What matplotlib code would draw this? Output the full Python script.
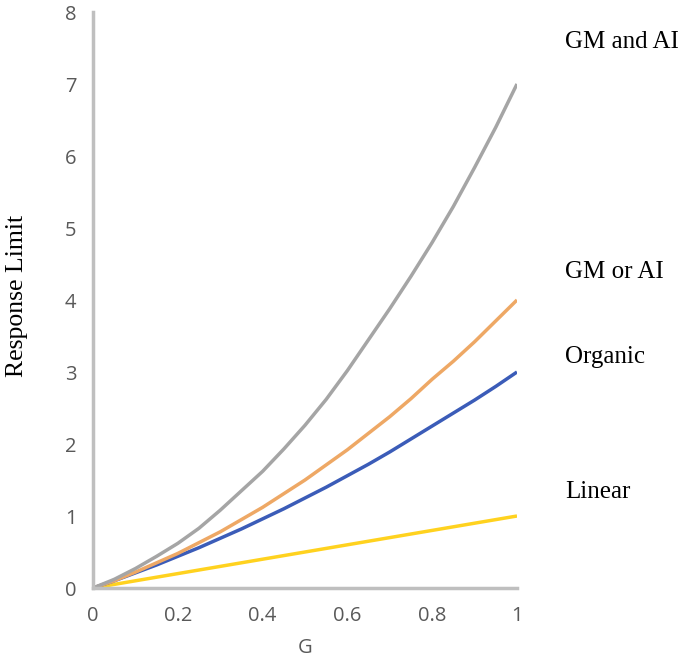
import matplotlib
matplotlib.use("Agg")
import matplotlib.pyplot as plt

# G values and response limits
g = [0.0, 0.05, 0.1, 0.15, 0.2, 0.25, 0.3, 0.35, 0.4, 0.45, 0.5,
     0.55, 0.6, 0.65, 0.7, 0.75, 0.8, 0.85, 0.9, 0.95, 1.0]
gm_and_ai = [0.0, 0.12, 0.27, 0.44, 0.62, 0.83, 1.08, 1.35, 1.62, 1.93, 2.26,
             2.62, 3.02, 3.45, 3.88, 4.33, 4.80, 5.30, 5.84, 6.40, 7.0]
gm_or_ai = [0.0, 0.10, 0.22, 0.35, 0.48, 0.63, 0.78, 0.95, 1.12, 1.31, 1.50,
            1.71, 1.92, 2.15, 2.38, 2.63, 2.90, 3.15, 3.42, 3.71, 4.0]
organic = [0.0, 0.10, 0.21, 0.32, 0.44, 0.56, 0.69, 0.82, 0.96, 1.10, 1.25,
           1.40, 1.56, 1.72, 1.89, 2.07, 2.25, 2.43, 2.61, 2.80, 3.0]
linear = [0.0, 0.05, 0.1, 0.15, 0.2, 0.25, 0.3, 0.35, 0.4, 0.45, 0.5,
          0.55, 0.6, 0.65, 0.7, 0.75, 0.8, 0.85, 0.9, 0.95, 1.0]

labels = ["GM and AI", "GM or AI", "Organic", "Linear"]
label_y = [7.58, 4.39, 3.21, 1.33]

fig = plt.figure(figsize=(6.85, 6.6), dpi=100)
ax = fig.add_axes([93 / 685, 1 - 588 / 660, 424 / 685, 576 / 660])

ax.plot(g, linear, color="#FFD21F", lw=2.5, solid_capstyle="butt")
ax.plot(g, organic, color="#3B5CB8", lw=2.5, solid_capstyle="butt")
ax.plot(g, gm_or_ai, color="#EEA865", lw=2.5, solid_capstyle="butt")
ax.plot(g, gm_and_ai, color="#A5A5A5", lw=2.5, solid_capstyle="butt")

ax.set_xlim(0, 1)
ax.set_ylim(0, 8)
ax.set_xticks([0, 0.2, 0.4, 0.6, 0.8, 1])
ax.set_xticklabels(["0", "0.2", "0.4", "0.6", "0.8", "1"])
ax.set_yticks(range(9))

for s in ["top", "right"]:
    ax.spines[s].set_visible(False)
for s in ["left", "bottom"]:
    ax.spines[s].set_color("#BFBFBF")
    ax.spines[s].set_linewidth(2.5)
ax.tick_params(length=0, labelsize=14.5, labelcolor="#595959")
ax.tick_params(axis="x", pad=13)
ax.tick_params(axis="y", pad=12)
for t in ax.get_xticklabels() + ax.get_yticklabels():
    t.set_family("Open Sans")

ax.set_xlabel("G", family="Open Sans", fontsize=14.5, color="#595959", labelpad=8.5)
fig.text(17 / 685, 1 - 296 / 660, "Response Limit", rotation=90,
         family="Liberation Serif", fontsize=18.5, ha="center", va="center")

for name, y in zip(labels, label_y):
    ax.text(1.113, y, name, family="Liberation Serif", fontsize=18,
            ha="left", va="center", clip_on=False)

fig.savefig("out.png", dpi=100)
